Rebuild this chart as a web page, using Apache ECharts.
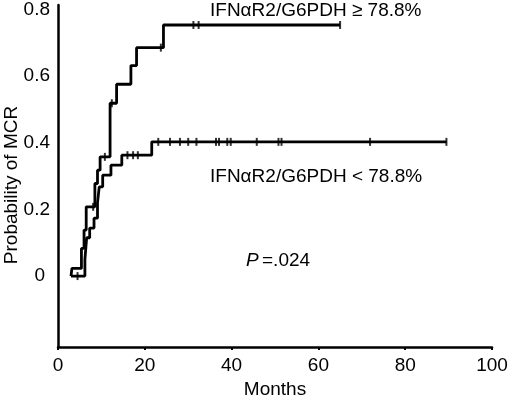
<!DOCTYPE html>
<html><head><meta charset="utf-8">
<script src="https://cdn.jsdelivr.net/npm/echarts@6/dist/echarts.min.js"></script>
<style>html,body{margin:0;padding:0;background:#fff}#c{width:520px;height:395px}</style>
</head><body><div id="c"></div>
<script>
// Kaplan-Meier steps: time (months) and probability after each event
const highTimes  = [3.0, 3.2, 5.4, 6.0, 6.5, 8.5, 9.1, 9.7, 12.0, 13.5, 16.8, 18.1, 24.3, 65.0];
const highValues = [0.00, 0.023, 0.083, 0.138, 0.208, 0.278, 0.318, 0.358, 0.519, 0.576, 0.632, 0.686, 0.754, 0.754];
const highCensorTimes  = [8.1, 10.8, 12.4, 23.7, 31.2, 32.4, 65.0];
const highCensorValues = [0.208, 0.358, 0.519, 0.686, 0.754, 0.754, 0.754];

const lowTimes  = [3.0, 6.2, 6.6, 7.3, 8.3, 9.1, 9.5, 10.3, 12.2, 14.7, 21.6, 89.5];
const lowValues = [0.00, 0.05, 0.115, 0.144, 0.174, 0.22, 0.268, 0.303, 0.333, 0.363, 0.403, 0.403];
const lowCensorTimes  = [4.5, 16.0, 17.3, 18.4, 23.1, 25.8, 28.1, 30.0, 31.9, 36.4, 37.1, 39.0, 39.8, 45.8, 50.8, 51.5, 71.9, 89.5];
const lowCensorValues = [0.00, 0.363, 0.363, 0.363, 0.403, 0.403, 0.403, 0.403, 0.403, 0.403, 0.403, 0.403, 0.403, 0.403, 0.403, 0.403, 0.403, 0.403];

const xTicks = [0, 20, 40, 60, 80, 100];
const yTicks = [0, 0.2, 0.4, 0.6, 0.8];
const xTitle = 'Months';
const yTitle = 'Probability of MCR';
const labelHigh = 'IFNαR2/G6PDH ≥ 78.8%';
const labelLow = 'IFNαR2/G6PDH < 78.8%';

const FONT = 'Liberation Sans, Arial, Helvetica, sans-serif';
const FS = 19;
const zip = (a, b) => a.map((v, i) => [v, b[i]]);

const chart = echarts.init(document.getElementById('c'), null, {renderer: 'canvas'});
const censorStyle = {
  type: 'scatter',
  symbol: 'rect',
  symbolSize: [2, 8],
  itemStyle: {color: '#000'},
  silent: true,
  z: 3
};
chart.setOption({
  animation: false,
  backgroundColor: '#fff',
  grid: {left: 58, right: 28, top: 5, bottom: 48, containLabel: false, outerBoundsMode: 'none'},
  xAxis: {
    type: 'value', min: 0, max: 100, interval: 20,
    axisLine: {onZero: false, lineStyle: {color: '#000', width: 2.5}},
    axisTick: {show: true, inside: false, length: 3, lineStyle: {color: '#000', width: 2}, customValues: xTicks},
    axisLabel: {color: '#000', fontSize: FS, fontFamily: FONT, margin: 9, customValues: xTicks},
    splitLine: {show: false},
    name: xTitle, nameLocation: 'middle', nameGap: 31,
    nameTextStyle: {color: '#000', fontSize: FS, fontFamily: FONT}
  },
  yAxis: {
    type: 'value', min: -0.213, max: 0.814,
    axisLine: {show: true, onZero: false, lineStyle: {color: '#000', width: 2.5}},
    axisTick: {show: false},
    axisLabel: {color: '#000', fontSize: FS, fontFamily: FONT, margin: 8, customValues: yTicks,
      formatter: v => (v === 0 ? '{z|0}' : String(Math.round(v * 10) / 10)),
      rich: {z: {fontSize: FS, fontFamily: FONT, color: '#000', padding: [0, 5, 0, 0]}}},
    splitLine: {show: false}
  },
  graphic: [
    {type: 'text', left: 210, top: 1, style: {text: labelHigh, fill: '#000', font: FS + 'px ' + FONT}},
    {type: 'text', left: 210, top: 167, style: {text: labelLow, fill: '#000', font: FS + 'px ' + FONT}},
    {type: 'text', left: 246, top: 251, style: {
      rich: {i: {fontStyle: 'italic', fontSize: FS, fontFamily: FONT, fill: '#000'}, n: {fontSize: FS, fontFamily: FONT, fill: '#000'}},
      text: '{i|P} {n|=.024}'}},
    {type: 'text', x: 12, y: 185, rotation: Math.PI / 2, style: {text: yTitle, fill: '#000', font: FS + 'px ' + FONT, align: 'center', verticalAlign: 'middle'}}
  ],
  series: [
    {type: 'line', step: 'end', data: zip(highTimes, highValues), showSymbol: false,
     lineStyle: {color: '#000', width: 2.8}, z: 2},
    {type: 'line', step: 'end', data: zip(lowTimes, lowValues), showSymbol: false,
     lineStyle: {color: '#000', width: 2.8}, z: 2},
    Object.assign({data: zip(highCensorTimes, highCensorValues)}, censorStyle),
    Object.assign({data: zip(lowCensorTimes, lowCensorValues)}, censorStyle)
  ]
});
</script></body></html>
